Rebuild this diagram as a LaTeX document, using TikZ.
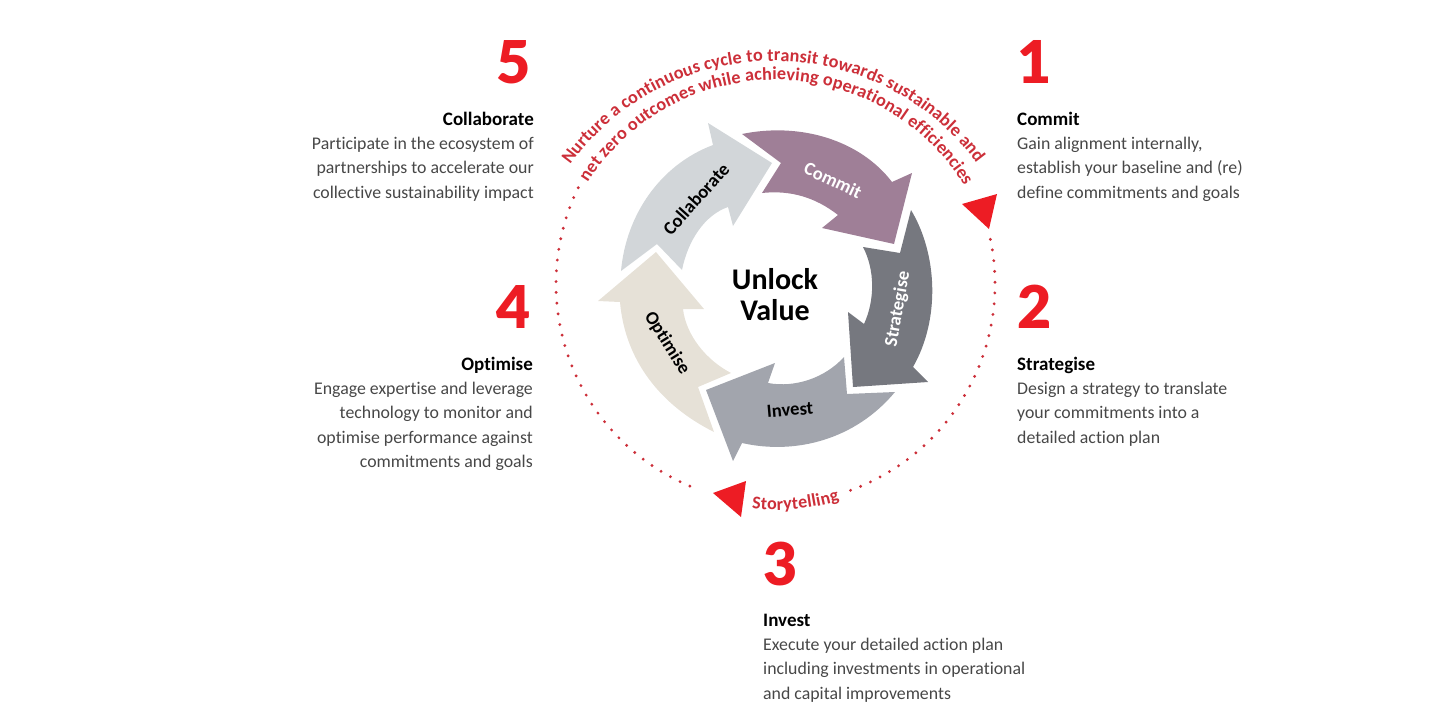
\documentclass[tikz,border=0pt]{standalone}
\usepackage{fontspec}
\setmainfont{Carlito}[Ligatures=NoCommon]
\newfontfamily\numfont{Lato Black}
\usetikzlibrary{decorations.text}
\definecolor{signred}{HTML}{ED1C24}
\definecolor{ringred}{HTML}{CC2F39}
\definecolor{commitcol}{HTML}{9F7F97}
\definecolor{collabcol}{HTML}{D2D6D9}
\definecolor{strategycol}{HTML}{76787F}
\definecolor{investcol}{HTML}{A2A5AD}
\definecolor{optimcol}{HTML}{E6E1D7}
\tikzset{
  numlabel/.style={text=signred,font=\fontsize{59}{59}\selectfont\numfont,inner sep=0pt},
  bodyleft/.style={anchor=north west,align=left,inner sep=0pt,text=black!72,font=\fontsize{17.8}{24.4}\selectfont},
  bodyright/.style={anchor=north east,align=right,inner sep=0pt,text=black!72,font=\fontsize{17.8}{24.4}\selectfont},
  arrowlabel/.style={font=\fontsize{18.6}{18.6}\selectfont\bfseries,inner sep=0pt},
}
\newcommand{\headline}[1]{{\fontsize{19}{24.4}\selectfont\color{black}\bfseries #1}}
\begin{document}
\begin{tikzpicture}[x=1pt,y=1pt]
    \useasboundingbox (0,0) rectangle (1449,-725);

    % curved arrows
    \fill[optimcol] (620,-302) -- (598,-301) -- (656,-252) -- (704,-309) -- (683,-309)
        .. controls (686,-335) and (706,-360) .. (731,-373) -- (698,-387) -- (714,-432)
        .. controls (660,-405) and (625,-360) .. (620,-302) -- cycle;
    \fill[collabcol] (621,-271) .. controls (626,-215) and (660,-165) .. (713,-145) -- (708,-123)
        -- (772,-163) -- (733,-226) -- (728,-207)
        .. controls (705,-215) and (688,-240) .. (682,-270) -- (657,-244) -- cycle;
    \fill[commitcol] (742,-134) .. controls (800,-122) and (860,-140) .. (892,-182) -- (912,-173)
        -- (894,-244) -- (822,-228) -- (838,-215)
        .. controls (815,-197) and (790,-190) .. (762,-193) -- (781,-163) -- cycle;
    \fill[strategycol] (911,-210) .. controls (938,-255) and (940,-320) .. (913,-367) -- (928,-382)
        -- (853,-387) -- (848,-312) -- (864,-324)
        .. controls (875,-300) and (875,-270) .. (863,-247) -- (900,-253) -- cycle;
    \fill[investcol] (844,-357) -- (847,-394) -- (895,-392)
        .. controls (855,-440) and (795,-455) .. (742,-443) -- (733,-461) -- (706,-390)
        -- (775,-363) -- (768,-383) .. controls (795,-388) and (825,-378) .. (844,-357) -- cycle;

    % arrow labels
    \node[arrowlabel,text=white,rotate=-25] (commit) at (833,-180) {Commit};
    \node[arrowlabel,text=black,rotate=48] (collab) at (696,-199) {Collaborate};
    \node[arrowlabel,text=white,rotate=80] (strategy) at (898,-309) {Strategise};
    \node[arrowlabel,text=black,rotate=5] (invest) at (790,-410) {Invest};
    \node[arrowlabel,text=black,rotate=-58] (optim) at (667,-343) {Optimise};

    \node[font=\fontsize{30}{31}\selectfont\bfseries,align=center,inner sep=0pt] (value) at (775,-295) {Unlock\\Value};

    % ring
    \draw[ringred,line width=3.2pt,line cap=round,dash pattern=on 0pt off 10.8pt]
        (775.5,-284) ++(154:219.5) arc (154:248:219.5);
    \draw[ringred,line width=3.2pt,line cap=round,dash pattern=on 0pt off 10.8pt]
        (775.5,-284) ++(-70:219.5) arc (-70:14:219.5);
    \fill[signred] (997,-194) -- (962,-204) -- (989,-229) -- cycle;
    \fill[signred] (746,-481) -- (713,-493) -- (741,-517) -- cycle;

    % ring text
    \path[decorate,decoration={text along path,text align={fit to path},
        text={|\fontsize{18.2}{19}\selectfont\bfseries\color{ringred}|Nurture a continuous cycle to transit towards sustainable and}}]
        (774,-313) ++(144:252) arc (144:36.5:252);
    \path[decorate,decoration={text along path,text align={fit to path},
        text={|\fontsize{18.2}{19}\selectfont\bfseries\color{ringred}|net zero outcomes while achieving operational efficiencies}}]
        (775,-302) ++(147.5:222) arc (147.5:31.5:222);
    \path[decorate,decoration={text along path,text align={fit to path},
        text={|\fontsize{18}{18}\selectfont\bfseries\color{ringred}|Storytelling}}]
        (775.5,-284) ++(264:226) arc (264:286.5:226);

    % numbers
    \node[numlabel,anchor=north east] (n5) at (531,-40) {5};
    \node[numlabel,anchor=north west] (n1) at (1017,-40) {1};
    \node[numlabel,anchor=north east] (n4) at (531,-285) {4};
    \node[numlabel,anchor=north west] (n2) at (1017,-285) {2};
    \node[numlabel,anchor=north west] (n3) at (763,-542) {3};

    % text blocks
    \node[bodyright] (t5) at (534,-111.5) {\headline{Collaborate}\\Participate in the ecosystem of\\partnerships to accelerate our\\collective sustainability impact};
    \node[bodyleft] (t1) at (1017,-111.5) {\headline{Commit}\\Gain alignment internally,\\establish your baseline and (re)\\define commitments and goals};
    \node[bodyright] (t4) at (533,-356.5) {\headline{Optimise}\\Engage expertise and leverage\\technology to monitor and\\optimise performance against\\commitments and goals};
    \node[bodyleft] (t2) at (1017,-356.5) {\headline{Strategise}\\Design a strategy to translate\\your commitments into a\\detailed action plan};
    \node[bodyleft] (t3) at (763,-613.5) {\headline{Invest}\\Execute your detailed action plan\\including investments in operational\\and capital improvements};
\end{tikzpicture}
\end{document}
